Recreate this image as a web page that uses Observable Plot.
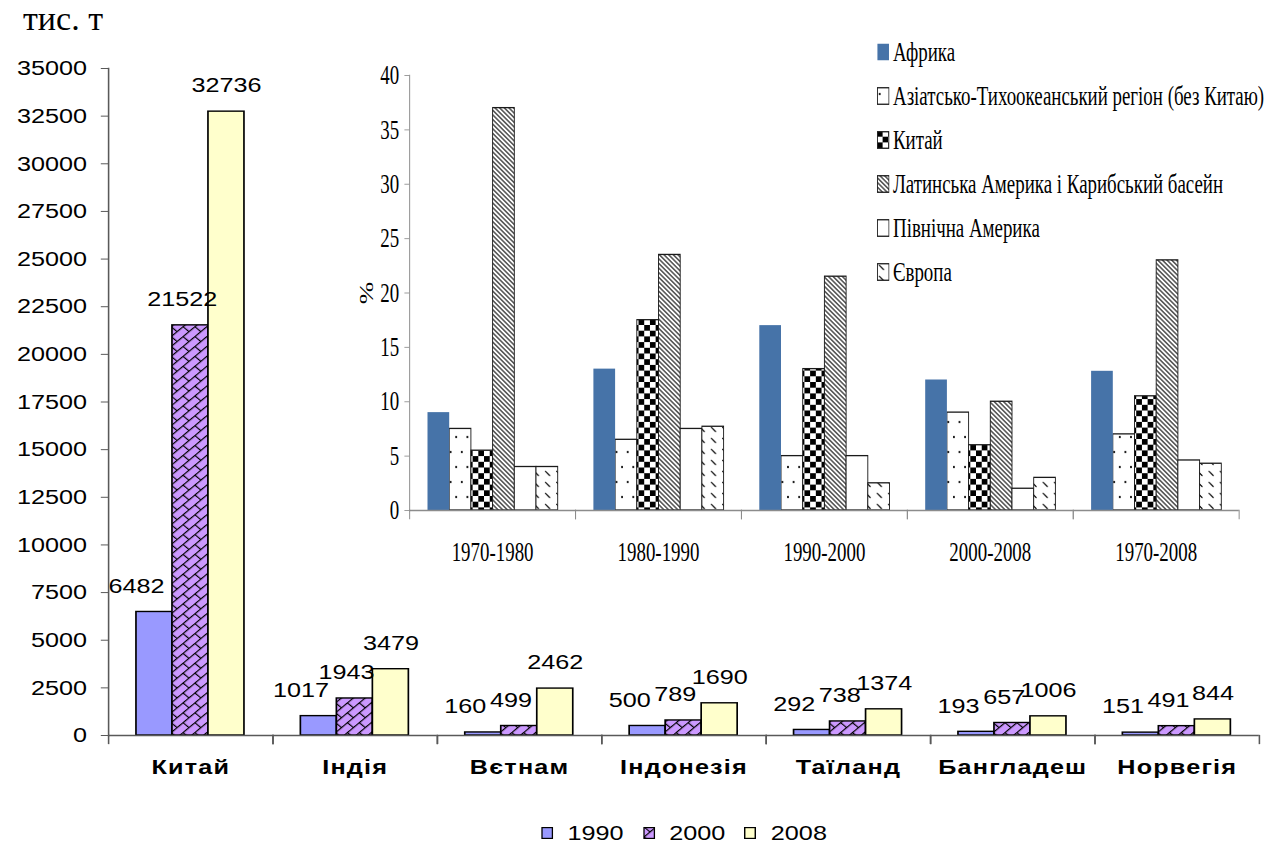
<!DOCTYPE html>
<html>
<head>
<meta charset="utf-8">
<script src="https://cdn.jsdelivr.net/npm/d3@7"></script>
<script src="https://cdn.jsdelivr.net/npm/@observablehq/plot@0.6"></script>
<style>
html, body { margin: 0; padding: 0; background: #fff; }
#page { position: relative; width: 1266px; height: 846px; overflow: hidden; background: #fff; }
#unit { position: absolute; left: 23px; top: 2px; font-family: "Liberation Serif", "Times New Roman", serif; font-size: 34px; font-weight: normal; line-height: 34px; color: #000; white-space: nowrap; }
#main { position: absolute; left: 0; top: 0; width: 1055px; transform: scaleX(1.2); transform-origin: 0 0; }
#inset { position: absolute; left: 340px; top: 40px; width: 1320px; height: 530px; transform: scaleX(0.7); transform-origin: 0 0; }
#main svg, #inset svg { display: block; max-width: none; }
#main [aria-label="fx-axis tick label"] text { letter-spacing: 1px; }
.leg { position: absolute; left: 767px; height: 30px; display: flex; align-items: center; font-family: "Liberation Serif", "Times New Roman", serif; font-size: 27px; line-height: 30px; white-space: nowrap; color: #000; }
.leg svg { margin-right: 5px; flex: none; }
#legend { position: absolute; left: 0; top: 821px; width: 1266px; padding-left: 102px; box-sizing: border-box; display: flex; justify-content: center; align-items: center; transform: scaleX(1.2); transform-origin: 684px 50%; font-family: "Liberation Sans", Arial, sans-serif; font-size: 21px; line-height: 24px; color: #000; }
#legend .item { display: flex; align-items: center; margin: 0 8px; }
#legend svg { margin-right: 12px; }
</style>
</head>
<body>
<svg width="0" height="0" style="position:absolute">
  <defs>
    <pattern id="brick" patternUnits="userSpaceOnUse" width="14" height="14" patternTransform="rotate(-45)">
      <rect width="14" height="14" fill="#CC99FF"/>
      <path d="M0,0.5H14M0,7.5H14M0.5,0V7.5M7.5,7.5V14" stroke="#000" stroke-width="1.1" fill="none"/>
    </pattern>
    <pattern id="dots" patternUnits="userSpaceOnUse" width="16" height="30">
      <rect width="16" height="30" fill="#fff"/>
      <circle cx="4" cy="7" r="1.3" fill="#000"/>
      <circle cx="12" cy="22" r="1.3" fill="#000"/>
    </pattern>
    <pattern id="checker" patternUnits="userSpaceOnUse" width="16.3" height="11.4">
      <rect width="16.3" height="11.4" fill="#fff"/>
      <rect x="0" y="0" width="8.15" height="5.7" fill="#000"/>
      <rect x="8.15" y="5.7" width="8.15" height="5.7" fill="#000"/>
    </pattern>
    <pattern id="hatch" patternUnits="userSpaceOnUse" width="8" height="3.8" patternTransform="rotate(35)">
      <rect width="8" height="3.8" fill="#fff"/>
      <rect x="0" y="1.3" width="8" height="1.2" fill="#000"/>
    </pattern>
    <pattern id="dashes" patternUnits="userSpaceOnUse" width="16" height="11">
      <rect width="16" height="11" fill="#fff"/>
      <path d="M3,2L10,6.9" stroke="#000" stroke-width="1.3"/>
    </pattern>
  </defs>
</svg>
<div id="page">
  <div id="main"></div>
  <div id="inset"></div>
  <div id="unit">тис. т</div>
  <div id="legend"></div>
</div>
<script>
// ---------- main chart data ----------
const countries = ["Китай", "Індія", "Вєтнам", "Індонезія", "Таїланд", "Бангладеш", "Норвегія"];
const years = ["1990", "2000", "2008"];
const values1990 = [6482, 1017, 160, 500, 292, 193, 151];
const values2000 = [21522, 1943, 499, 789, 738, 657, 491];
const values2008 = [32736, 3479, 2462, 1690, 1374, 1006, 844];
const mainTicks = [0, 2500, 5000, 7500, 10000, 12500, 15000, 17500, 20000, 22500, 25000, 27500, 30000, 32500, 35000];

// ---------- inset chart data (%) ----------
const periods = ["1970-1980", "1980-1990", "1990-2000", "2000-2008", "1970-2008"];
const regions = ["Африка", "Азіатсько-Тихоокеанський регіон (без Китаю)", "Китай", "Латинська Америка і Карибський басейн", "Північна Америка", "Європа"];
const africa = [9, 13, 17, 12, 12.8];
const asiaPacific = [7.5, 6.5, 5, 9, 7];
const china = [5.5, 17.5, 13, 6, 10.5];
const latinAmerica = [37, 23.5, 21.5, 10, 23];
const northAmerica = [4, 7.5, 5, 2, 4.6];
const europe = [4, 7.7, 2.5, 3, 4.3];
const insetTicks = [0, 5, 10, 15, 20, 25, 30, 35, 40];

// ---------- tables ----------
const yearSeries = [values1990, values2000, values2008];
const mainData = countries.flatMap((c, i) => years.map((y, j) => ({country: c, year: y, value: yearSeries[j][i]})));
const regionSeries = [africa, asiaPacific, china, latinAmerica, northAmerica, europe];
const insetData = periods.flatMap((p, i) => regions.map((r, j) => ({period: p, region: r, value: regionSeries[j][i]})));

const yearColors = ["#9999FF", "url(#brick)", "#FFFFCC"];
const regionColors = ["#4673A8", "url(#dots)", "url(#checker)", "url(#hatch)", "#FFFFFF", "url(#dashes)"];
const labelDx = [-15, -7, 0];

// ---------- main chart ----------
const mainPlot = Plot.plot({
  width: 1055,
  height: 800,
  marginLeft: 86.7,
  marginRight: 2.5,
  marginTop: 68,
  marginBottom: 65,
  style: {background: "transparent", overflow: "visible", fontFamily: "'Liberation Sans', Arial, sans-serif", color: "#000"},
  fx: {domain: countries, padding: 0, label: null},
  x: {domain: years, paddingInner: 0, paddingOuter: 0.75, axis: null},
  y: {domain: [0, 35000], label: null},
  color: {domain: years, range: yearColors},
  marks: [
    Plot.barY(mainData, {fx: "country", x: "year", y: "value", fill: "year", stroke: "#000", strokeWidth: 1.4}),
    ...years.map((yr, j) => Plot.text(mainData, {
      filter: d => d.year === yr,
      fx: "country", x: "year", y: "value",
      text: d => String(d.value),
      dy: -26, dx: labelDx[j], fontSize: 21, fill: "#000"
    })),
    Plot.ruleY([0], {stroke: "#595959", strokeWidth: 1.3}),
    Plot.frame({anchor: "left", facetAnchor: "left", stroke: "#595959", strokeWidth: 1.3}),
    Plot.frame({anchor: "left", insetTop: 667, insetBottom: -8, stroke: "#595959", strokeWidth: 1.3}),
    Plot.frame({anchor: "right", insetTop: 667, insetBottom: -8, stroke: "#595959", strokeWidth: 1.3}),
    Plot.axisY({ticks: mainTicks, tickFormat: "d", tickSize: 6, tickPadding: 12, fontSize: 21, stroke: "#595959", label: null}),
    Plot.axisFx({anchor: "bottom", tickSize: 0, tickPadding: 24, fontSize: 21, fontWeight: "bold", label: null})
  ]
});
document.getElementById("main").append(mainPlot);

// ---------- inset chart ----------
const insetPlot = Plot.plot({
  width: 1320,
  height: 530,
  marginLeft: 97,
  marginRight: 34.3,
  marginTop: 35,
  marginBottom: 60,
  style: {background: "transparent", overflow: "visible", fontFamily: "'Liberation Serif', 'Times New Roman', serif", color: "#000"},
  fx: {domain: periods, padding: 0, label: null},
  x: {domain: regions, paddingInner: 0, paddingOuter: 0.75, axis: null},
  y: {domain: [0, 40], label: null},
  color: {domain: regions, range: regionColors},
  marks: [
    Plot.barY(insetData, {filter: d => d.region !== regions[0], fx: "period", x: "region", y: "value", fill: "region", stroke: "#1a1a1a", strokeWidth: 1.3}),
    Plot.barY(insetData, {filter: d => d.region === regions[0], fx: "period", x: "region", y: "value", fill: "region"}),
    Plot.ruleY([0], {stroke: "#8c8c8c", strokeWidth: 1.4}),
    Plot.frame({anchor: "left", facetAnchor: "left", stroke: "#8c8c8c", strokeWidth: 1.4}),
    Plot.frame({anchor: "left", insetTop: 435, insetBottom: -8, stroke: "#8c8c8c", strokeWidth: 1.4}),
    Plot.frame({anchor: "right", insetTop: 435, insetBottom: -8, stroke: "#8c8c8c", strokeWidth: 1.4}),
    Plot.axisY({ticks: insetTicks, tickSize: 7, tickPadding: 8, fontSize: 27, stroke: "#8c8c8c", label: "%", labelAnchor: "center", labelOffset: 72, labelArrow: false}),
    Plot.axisFx({anchor: "bottom", tickSize: 0, tickPadding: 31, fontSize: 27, label: null})
  ]
});
const insetDiv = document.getElementById("inset");
insetDiv.append(insetPlot);

// inset legend
const svgNS = "http://www.w3.org/2000/svg";
regions.forEach((r, i) => {
  const row = document.createElement("div");
  row.className = "leg";
  row.style.top = (44 * i - 3) + "px";
  const sw = document.createElementNS(svgNS, "svg");
  sw.setAttribute("width", "18");
  sw.setAttribute("height", "18");
  const rect = document.createElementNS(svgNS, "rect");
  rect.setAttribute("x", "0.75"); rect.setAttribute("y", "0.75");
  rect.setAttribute("width", "16.5"); rect.setAttribute("height", "16.5");
  rect.setAttribute("fill", regionColors[i]);
  if (i > 0) { rect.setAttribute("stroke", "#1a1a1a"); rect.setAttribute("stroke-width", "1.3"); }
  sw.append(rect);
  const t = document.createElement("span");
  t.textContent = r;
  row.append(sw, t);
  insetDiv.append(row);
});

// main legend
const legend = document.getElementById("legend");
years.forEach((y, j) => {
  const item = document.createElement("div");
  item.className = "item";
  const sw = document.createElementNS(svgNS, "svg");
  sw.setAttribute("width", "10");
  sw.setAttribute("height", "12");
  const rect = document.createElementNS(svgNS, "rect");
  rect.setAttribute("x", "0.6"); rect.setAttribute("y", "0.6");
  rect.setAttribute("width", "8.8"); rect.setAttribute("height", "10.8");
  rect.setAttribute("fill", yearColors[j]);
  rect.setAttribute("stroke", "#000"); rect.setAttribute("stroke-width", "1.2");
  sw.append(rect);
  const t = document.createElement("span");
  t.textContent = y;
  item.append(sw, t);
  legend.append(item);
});
</script>
</body>
</html>
